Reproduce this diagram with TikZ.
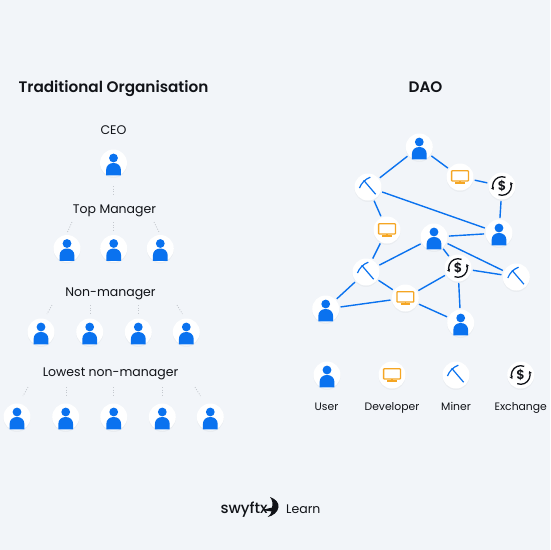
\documentclass[tikz,border=0pt]{standalone}
\usepackage{fontspec}
\setmainfont{Poppins}
\newfontfamily\semib{Poppins SemiBold}
\newfontfamily\medi{Poppins Medium}
\usetikzlibrary{arrows.meta}
\definecolor{bgc}{HTML}{F2F5F9}
\definecolor{blu}{HTML}{0A72EF}
\definecolor{org}{HTML}{F5A623}
\definecolor{ink}{HTML}{111318}
\definecolor{dotc}{HTML}{C4C8CE}
\tikzset{
  x=1pt,y=-1pt,
  disc/.style={circle,fill=white,minimum size=27pt,inner sep=0pt,outer sep=1.5pt,
    preaction={fill=black,opacity=.03,transform canvas={yshift=-1.5pt}}},
  link/.style={draw=blu,line width=1.4pt},
  dotl/.style={draw=dotc,line width=.8pt,dash pattern=on 1pt off 1.5pt},
  title/.style={text=ink,font=\semib\fontsize{15.25}{18}\selectfont,inner sep=0pt,anchor=base},
  lab/.style={text=ink,font=\fontsize{12.5}{15}\selectfont,inner sep=0pt,anchor=base},
  leg/.style={text=ink,font=\fontsize{10.8}{13}\selectfont,inner sep=0pt,anchor=base},
  pics/usericon/.style={code={
    \fill[blu] (0,-5) circle[radius=4.4];
    \fill[blu] (-7.4,12.4) -- (-7.4,7) .. controls (-7.4,2.5) and (-4,0) .. (0,0)
      .. controls (4,0) and (7.4,2.5) .. (7.4,7) -- (7.4,12.4) -- cycle;
  }},
  pics/devicon/.style={code={
    \draw[org,line width=1.3pt,rounded corners=.6pt] (-8.4,-6.2) rectangle (8.4,4);
    \draw[org,line width=1.3pt] (0,4) -- (0,6);
    \draw[org,line width=1.3pt] (-4.6,6) -- (4.6,6);
  }},
  pics/minericon/.style={code={
    \draw[blu,line width=1.2pt] (-4.3,-6.7) -- (7.6,7.2);
    \draw[blu,line width=1.2pt] (-8.5,1) .. controls (-6.5,-4) and (-3,-7.8) .. (2.3,-9.8);
  }},
  pics/exicon/.style={code={
    \draw[ink,line width=1.3pt,-{Stealth[length=3pt,width=3.5pt]}] (112:9.3) arc[start angle=112,end angle=-25,radius=9.3];
    \draw[ink,line width=1.3pt,-{Stealth[length=3pt,width=3.5pt]}] (-68:9.3) arc[start angle=-68,end angle=-205,radius=9.3];
    \node[text=ink,font=\semib\fontsize{13}{13}\selectfont,inner sep=0pt] at (0,0) {\$};
  }},
}
\begin{document}
\begin{tikzpicture}
\useasboundingbox (0,0) rectangle (550,550);
\fill[bgc] (0,0) rectangle (550,550);

\node[title] (ttrad) at (113.5,92.5) {Traditional Organisation};
\node[title] (tdao) at (425.5,92.5) {DAO};
\node[lab] (lceo) at (113.5,134.7) {CEO};
\node[lab] (ltop) at (114.5,213.3) {Top Manager};
\node[lab] (lnon) at (110.5,296.7) {Non-manager};
\node[lab] (llow) at (110.5,376) {Lowest non-manager};

% hierarchy nodes
\foreach \n/\x/\y in {c/113.5/163,
   ta/67/248.5,tb/113.7/248.5,tc/160.3/248.5,
   na/41/332,nb/89.7/332,nc/138.3/332,nd/186.3/332,
   wa/17/417,wb/65.7/417,wc/113.7/417,wd/162.3/417,we/210.3/417}{
  \node[disc] (\n) at (\x,\y) {};
  \pic at (\n) {usericon};
}
% dotted connectors
\foreach \a/\b/\cc/\dd in {113.7/186/113.7/195, 72/222/67.5/232, 113.7/222/113.7/232, 154/222/159/232,
   52/305/47/314, 90/305/90/315, 138.3/305/138.3/315, 177/305/182.5/314,
   28/387/23/396, 66/387/66/397, 113.7/387/113.7/397, 162.5/387/162.5/397, 195/387/200.5/396}{
  \coordinate (p) at (\a,\b);
  \coordinate (q) at (\cc,\dd);
  \draw[dotl] (p) -- (q);
}

% DAO nodes
\foreach \n/\x/\y in {ua/419.3/147,db/460/177,ea/502/186,ma/368/187,dc/387/230,ub/499/233,
  uc/434/237,eb/458/268,mb/366/272,mc/516.3/277,dd/405.3/298,ud/325.7/309,ue/460.7/323}{
  \node[disc] (\n) at (\x,\y) {};
}
\draw[link] (ua) -- (ma);
\draw[link] (ua) -- (db);
\draw[link] (db) -- (ea);
\draw[link] (ea) -- (ub);
\draw[link] (ma) -- (ub);
\draw[link] (ma) -- (dc);
\draw[link] (dc) -- (mb);
\draw[link] (mb) -- (uc);
\draw[link] (uc) -- (ub);
\draw[link] (uc) -- (eb);
\draw[link] (uc) -- (mc);
\draw[link] (eb) -- (mc);
\draw[link] (eb) -- (dd);
\draw[link] (eb) -- (ue);
\draw[link] (dd) -- (ue);
\draw[link] (dd) -- (ud);
\draw[link] (dd) -- (mb);
\draw[link] (mb) -- (ud);
\foreach \n in {ua,ub,uc,ud,ue}{\pic at (\n) {usericon};}
\foreach \n in {db,dc,dd}{\pic at (\n) {devicon};}
\foreach \n in {ma,mb,mc}{\pic at (\n) {minericon};}
\foreach \n in {ea,eb}{\pic at (\n) {exicon};}

% legend
\node[disc] (lu) at (327,375) {}; \pic at (lu) {usericon};
\node[disc] (ld) at (392,375) {}; \pic at (ld) {devicon};
\node[disc] (lm) at (456,375) {}; \pic at (lm) {minericon};
\node[disc] (le) at (520.7,375) {}; \pic at (le) {exicon};
\node[leg] (tu) at (326.5,410) {User};
\node[leg] (td) at (392,410) {Developer};
\node[leg] (tm) at (456,410) {Miner};
\node[leg] (te) at (520.7,410) {Exchange};

% logo
\node[text=ink,font=\medi\fontsize{15}{16}\selectfont,inner sep=0pt,anchor=base west] (sw) at (220.3,513) {swyftx};
\node[text=ink,font=\fontsize{12.5}{15}\selectfont,inner sep=0pt,anchor=base west] (lr) at (286,513) {Learn};
\fill[ink] (270,497) .. controls (276,499) and (279,503) .. (278.5,507)
  .. controls (278,512) and (273,516) .. (267.5,517)
  .. controls (270,515) and (271.5,513) .. (271.5,511.5)
  -- (262,510) -- (272,507.5)
  .. controls (273,504) and (272.5,500) .. (270,497) -- cycle;
\end{tikzpicture}
\end{document}
